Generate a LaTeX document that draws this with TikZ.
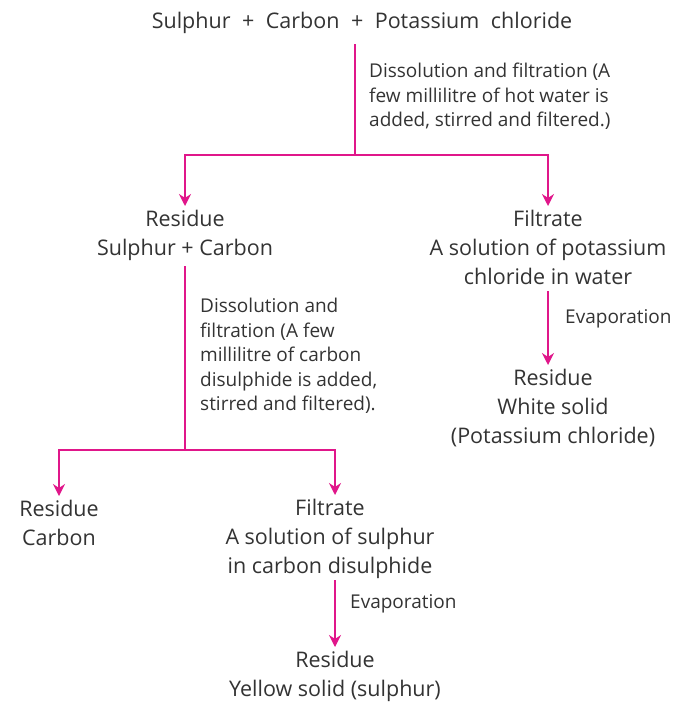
\documentclass[tikz,border=0pt]{standalone}
\usepackage{fontspec}
\setmainfont{Open Sans}
\usetikzlibrary{arrows.meta}
\definecolor{flow}{HTML}{E0168A}
\definecolor{txt}{HTML}{333333}
\newcommand{\widesp}{\spaceskip 11.5pt\relax}
\begin{document}
\begin{tikzpicture}[x=1pt,y=-1pt,
  box/.style={align=center,inner sep=0pt,outer sep=4pt,text=txt,font=\fontsize{21.5}{29}\selectfont},
  note/.style={align=left,inner sep=0pt,anchor=north west,text=txt,font=\fontsize{19}{24.5}\selectfont},
  link/.style={draw=flow,line width=1.6pt},
  arr/.style={link,-{Stealth[length=12pt,width=12pt]}}]
\useasboundingbox (0,0) rectangle (675,704);
\node[box] (t) at (362,23) {\widesp Sulphur + Carbon + Potassium chloride};
\node[box,anchor=north] (r1) at (185,206) {Residue\\Sulphur + Carbon};
\node[box,anchor=north] (f1) at (548,206) {Filtrate\\A solution of potassium\\chloride in water};
\node[box,anchor=north] (r2) at (553,365) {Residue\\White solid\\(Potassium chloride)};
\node[box,anchor=north] (r3) at (59,496) {Residue\\Carbon};
\node[box,anchor=north] (f2) at (330,495) {Filtrate\\A solution of sulphur\\in carbon disulphide};
\node[box,anchor=north] (r4) at (335,647) {Residue\\Yellow solid (sulphur)};
\node[note] (n1) at (369,63) {Dissolution and filtration (A\\few millilitre of hot water is\\added, stirred and filtered.)};
\node[note] (n2) at (200,298) {Dissolution and\\filtration (A few\\millilitre of carbon\\disulphide is added,\\stirred and filtered).};
\node[note] (n3) at (565,309) {Evaporation};
\node[note] (n4) at (350,594) {Evaporation};
\coordinate (j1) at (355,155);
\coordinate (j2) at (185,450);
\coordinate (s1) at (355,44);
\coordinate (s2) at (185,266);
\coordinate (e1) at (548,291);
\coordinate (e2) at (335,580);
\draw[link] (s1) -- (j1);
\draw[arr] (j1) -| (r1.north);
\draw[arr] (j1) -| (f1.north);
\draw[link] (s2) -- (j2);
\draw[arr] (j2) -| (r3.north);
\draw[arr] (j2) -| (f2.north -| e2);
\draw[arr] (e1) -- (r2.north -| e1);
\draw[arr] (e2) -- (r4.north -| e2);
\end{tikzpicture}
\end{document}
